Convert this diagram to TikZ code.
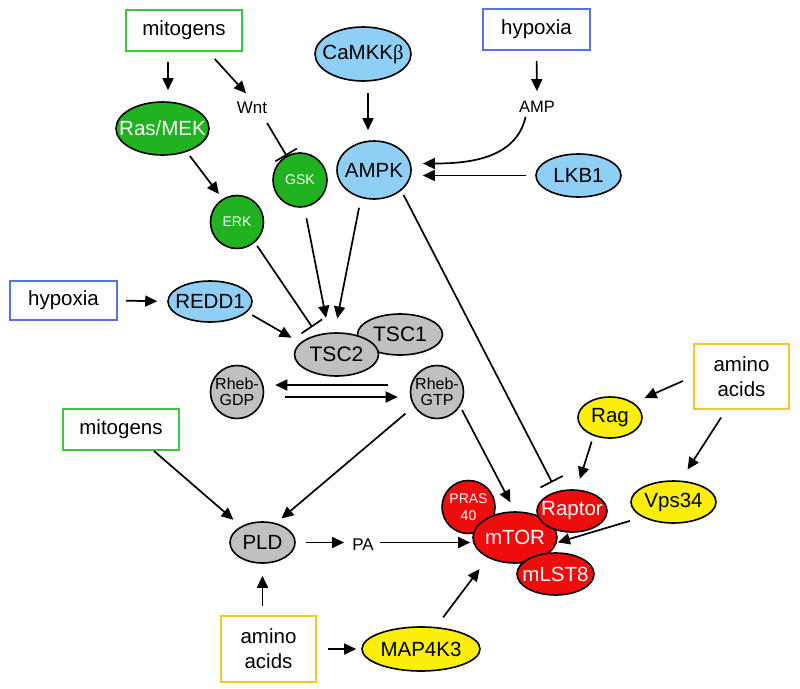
\documentclass[tikz,border=0pt]{standalone}
\usepackage{fontspec}
\setmainfont{Liberation Sans}
\newfontfamily\betafont{Liberation Serif}
\usetikzlibrary{arrows.meta,shapes.geometric}
\definecolor{gfill}{RGB}{32,178,32}
\definecolor{bfill}{RGB}{143,206,245}
\definecolor{grfill}{RGB}{192,192,192}
\definecolor{yfill}{RGB}{250,238,10}
\definecolor{rfill}{RGB}{238,12,12}
\definecolor{gline}{RGB}{60,200,60}
\definecolor{bline}{RGB}{85,115,225}
\definecolor{yline}{RGB}{245,200,40}
\newcommand\nw[1]{\makebox[0pt]{#1}}
\begin{document}
\begin{tikzpicture}[x=1pt,y=-1pt,
  box/.style={draw, line width=2pt, inner sep=0pt, fill=white, align=center,
    font=\fontsize{20.5}{25}\selectfont},
  gbox/.style={box, draw=gline, minimum width=116pt, minimum height=41pt},
  bbox/.style={box, draw=bline, minimum width=107pt, minimum height=41pt},
  ybox/.style={box, draw=yline, minimum width=95pt, minimum height=66pt},
  ov/.style={ellipse, draw=black, line width=1.6pt, inner sep=0pt,
    font=\fontsize{20.5}{24}\selectfont},
  cir/.style={circle, draw=black, line width=1.6pt, inner sep=0pt, align=center,
    minimum size=53pt},
  grn/.style={fill=gfill, text=white},
  blu/.style={fill=bfill},
  gry/.style={fill=grfill},
  yel/.style={fill=yfill},
  red/.style={fill=rfill, text=white},
  plain/.style={inner sep=2pt, font=\fontsize{17}{20}\selectfont},
  arr/.style={-{Triangle[length=12pt,width=11pt]}, line width=1.7pt},
  inh/.style={-{Bar[width=25pt]}, line width=1.7pt}
]
\useasboundingbox (0,0) rectangle (800,688);

% boxes
\node[gbox] (mit1) at (184,30) {mitogens};
\node[bbox] (hyp1) at (536.5,29.5) {hypoxia};
\node[bbox, minimum height=39pt] (hyp2) at (63.5,300.5) {hypoxia};
\node[gbox] (mit2) at (121,429.5) {mitogens};
\node[ybox, minimum height=65pt] (amino1) at (741.5,376.5) {amino\\acids};
\node[ybox] (amino2) at (268.5,649) {amino\\acids};

% plain labels
\node[plain] (wnt) at (252,108) {Wnt};
\node[plain, font=\fontsize{16.5}{20}\selectfont] (amp) at (537,107) {AMP};
\node[plain] (pa) at (363,545) {PA};

% ellipses and circles
\node[ov, blu, minimum width=96pt, minimum height=54pt] (cam) at (363,54) {\nw{CaMKK{\betafont β}}};
\node[ov, grn, minimum width=93pt, minimum height=53pt] (rasmek) at (162.5,128.5) {\nw{Ras/MEK}};
\node[cir, grn, font=\fontsize{14}{16}\selectfont, minimum size=54pt] (gsk) at (300,180) {GSK};
\node[ov, blu, minimum width=74pt, minimum height=58pt] (ampk) at (374,170) {\nw{AMPK}};
\node[ov, blu, minimum width=85pt, minimum height=43pt] (lkb1) at (578.5,175.5) {\nw{LKB1}};
\node[cir, grn, font=\fontsize{14}{16}\selectfont] (erk) at (237,222) {ERK};
\node[ov, blu, minimum width=84pt, minimum height=41pt] (redd1) at (210,301.5) {\nw{REDD1}};
\node[ov, gry, minimum width=85pt, minimum height=41pt, font=\fontsize{21}{24}\selectfont] (tsc1) at (400,334.5) {\nw{TSC1}};
\node[ov, gry, minimum width=84pt, minimum height=43pt, font=\fontsize{21}{24}\selectfont] (tsc2) at (336.5,354.5) {\nw{TSC2}};
\node[cir, gry, font=\fontsize{16}{15.5}\selectfont] (rhebgdp) at (237,392) {Rheb-\\GDP};
\node[cir, gry, font=\fontsize{16}{15.5}\selectfont] (rhebgtp) at (437,392) {Rheb-\\GTP};
\node[ov, yel, minimum width=64pt, minimum height=41pt] (rag) at (610,417.5) {\nw{Rag}};
\node[ov, yel, minimum width=85pt, minimum height=42pt] (vps34) at (673.5,502) {\nw{Vps34}};
\node[ov, gry, minimum width=65pt, minimum height=41pt] (pld) at (262.5,542.5) {\nw{PLD}};
\node[cir, red, font=\fontsize{14}{16.5}\selectfont] (pras) at (468.5,507) {PRAS\\40};
\node[ov, red, minimum width=84pt, minimum height=51pt] (mtor) at (515,537.5) {\nw{mTOR}};
\node[ov, red, minimum width=70pt, minimum height=42pt] (raptor) at (572,511) {\nw{Raptor}};
\node[ov, red, minimum width=77pt, minimum height=42pt] (mlst8) at (555.5,574) {\nw{mLST8}};
\node[ov, yel, minimum width=118pt, minimum height=44pt] (map4k3) at (421,649) {\nw{MAP4K3}};

% connectors
\draw[arr, shorten <=10pt, shorten >=11pt] ([xshift=-16pt]mit1.south) -- ([xshift=5.5pt]rasmek.north);
\draw[arr, shorten <=10pt, shorten >=9pt] ([xshift=24pt]mit1.south) -- (wnt.north);
\draw[inh, shorten <=8pt] ([xshift=11pt]wnt.south) -- (gsk.119);
\draw[arr, shorten <=5pt, shorten >=6pt] (rasmek.-44) -- (erk.122);
\draw[inh, shorten <=4pt, shorten >=9pt] (erk.-49) -- (tsc2.134);
\draw[arr, shorten <=11pt, shorten >=15pt] (gsk.-81) -- (tsc2.109);
\draw[arr, shorten <=10pt, shorten >=14pt] (ampk.-115) -- (tsc2.95);
\draw[arr, shorten <=11pt, shorten >=10pt] ([xshift=5pt]cam.south) -- ([xshift=-6pt]ampk.north);
\draw[arr, shorten <=10pt, shorten >=8pt] (hyp1.south) -- (amp.north);
\draw[arr, shorten <=2pt, shorten >=12pt] ([xshift=-11pt]amp.south) .. controls +(-10,45) and +(55,0) .. (ampk.10);
\draw[arr, shorten <=9pt, shorten >=11pt] (lkb1.west) -- (lkb1.west -| ampk.east);
\draw[inh, shorten <=5pt, shorten >=10pt] (ampk.-37) -- (raptor.128);
\draw[arr, shorten <=8pt, shorten >=10pt] (hyp2.east) -- (redd1.west);
\draw[arr, shorten <=6pt, shorten >=10pt] (redd1.-16) -- (tsc2.162);
\draw[arr, shorten <=22pt, shorten >=11pt] ([yshift=7pt]rhebgtp.west) -- ([yshift=7pt]rhebgdp.east);
\draw[arr, shorten <=21pt, shorten >=12pt] ([yshift=-5pt]rhebgdp.east) -- ([yshift=-5pt]rhebgtp.west);
\draw[arr, shorten <=11pt, shorten >=7pt] (rhebgtp.212) -- (pld.55);
\draw[arr, shorten >=10pt] ([xshift=33pt]mit2.south) -- (pld.143);
\draw[arr, shorten <=10pt, shorten >=6pt] (pld.east) -- (pa.west |- pld.east);
\draw[arr, shorten <=4pt, shorten >=2pt] (pa.east |- pld.east) -- (mtor.west |- pld.east);
\draw[arr, shorten <=9pt, shorten >=12pt] (amino2.north -| pld.south) -- (pld.south);
\draw[arr, shorten <=11pt, shorten >=5pt] (amino2.east) -- (map4k3.west);
\draw[arr, shorten <=12pt, shorten >=14pt] (map4k3.56) -- (mtor.217);
\draw[arr, shorten <=4pt, shorten >=10pt] (rhebgtp.-32) -- (mtor.north);
\draw[arr, shorten <=11pt, shorten >=12pt] (amino1.west) -- (rag.32);
\draw[arr, shorten <=6pt, shorten >=11pt] (rag.-132) -- (raptor.78);
\draw[arr, shorten <=9pt, shorten >=13pt] ([xshift=-15.5pt]amino1.south) -- (vps34.72);
\draw[arr, shorten <=13pt, shorten >=1pt] (vps34.206) -- (mtor.-7);
\end{tikzpicture}
\end{document}
